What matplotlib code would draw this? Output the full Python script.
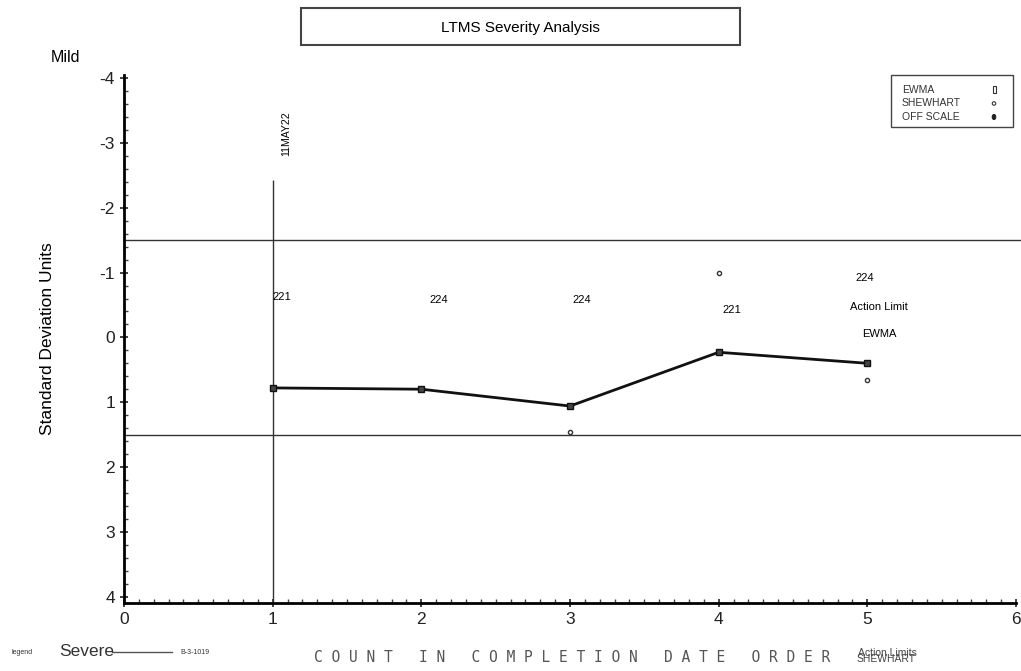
import numpy as np
import matplotlib
matplotlib.use("Agg")
from matplotlib import pyplot as plt
from matplotlib.patches import Rectangle, Ellipse
from matplotlib.ticker import MultipleLocator

plt.rcParams["font.family"] = ["Liberation Sans", "DejaVu Sans"]
plt.rcParams["axes.unicode_minus"] = False

# data
runs = [1, 2, 3, 4, 5]
ewma = [0.78, 0.80, 1.06, 0.23, 0.40]
shew_x = [3, 4, 5]
shew_y = [1.46, -1.0, 0.66]
lab_x = [1.06, 2.12, 3.08, 4.09, 4.98]
lab_y = [-0.63, -0.58, -0.58, -0.43, -0.92]
labels = ["221", "224", "224", "221", "224"]
limit_hi = -1.5
limit_lo = 1.5
date_x = 1
date_lbl = "11MAY22"

W, H = 1021, 671
fig = plt.figure(figsize=(10.21, 6.71), dpi=100)
ax = fig.add_axes([124 / W, 1 - 603 / H, 892 / W, 528 / H])
ax.set_xlim(0, 6)
ax.set_ylim(4.1, -4.05)

for s in ["top", "right"]:
    ax.spines[s].set_visible(False)
ax.spines["left"].set_linewidth(2)
ax.spines["bottom"].set_linewidth(2)
ax.xaxis.set_major_locator(MultipleLocator(1))
ax.yaxis.set_major_locator(MultipleLocator(1))
ax.xaxis.set_minor_locator(MultipleLocator(0.1))
ax.yaxis.set_minor_locator(MultipleLocator(0.2))
ax.tick_params(which="major", direction="inout", length=6, width=1.2, labelsize=12.5, colors="#222")
ax.tick_params(which="minor", direction="in", length=3, width=1, colors="#444")

ax.axhline(limit_hi, xmax=1.01, color="#333", lw=1, clip_on=False)
ax.axhline(limit_lo, xmax=1.01, color="#333", lw=1, clip_on=False)
ax.vlines(date_x, 4.1, -2.43, color="#333", lw=1)
ax.text(date_x + 0.09, -3.15, date_lbl, rotation=90, fontsize=7.5, ha="center", va="center")

ax.plot(runs, ewma, color="#111", lw=2, marker="s", ms=4, mfc="#444", mec="#111")
ax.plot(shew_x, shew_y, ls="none", marker="o", ms=3, mfc="white", mec="#333")
for x, y, t in zip(lab_x, lab_y, labels):
    ax.text(x, y, t, fontsize=8, ha="center", va="center")
ax.text(5.08, -0.47, "Action Limit", fontsize=8, ha="center", va="center")
ax.text(5.08, -0.05, "EWMA", fontsize=8, ha="center", va="center")

ax.set_ylabel("Standard Deviation Units", fontsize=12.5, labelpad=32)

# title box
fig.patches.append(Rectangle((301 / W, 1 - 45 / H), 439 / W, 37 / H,
                             transform=fig.transFigure, fill=False, ec="#444", lw=1.5))
fig.text(520 / W, 1 - 28 / H, "LTMS Severity Analysis", fontsize=11, ha="center", va="center")

# legend box
fig.patches.append(Rectangle((891 / W, 1 - 127 / H), 122 / W, 52 / H,
                             transform=fig.transFigure, fill=False, ec="#444", lw=1))
leg_names = ["EWMA", "SHEWHART", "OFF SCALE"]
for i, name in enumerate(leg_names):
    yy = 1 - (90 + i * 13.5) / H
    fig.text(902 / W, yy, name, fontsize=7.5, va="center", color="#333")
fig.patches.append(Rectangle((992.5 / W, 1 - 93 / H), 3 / W, 7 / H,
                             transform=fig.transFigure, fc="white", ec="#333", lw=0.8))
fig.patches.append(Ellipse((994 / W, 1 - 103.5 / H), 3.5 / W, 3.5 / H,
                           transform=fig.transFigure, fc="white", ec="#333", lw=0.8))
fig.patches.append(Ellipse((994 / W, 1 - 117 / H), 3.5 / W, 5 / H,
                           transform=fig.transFigure, fc="#222", ec="#222", lw=0.8))

fig.text(65 / W, 1 - 58 / H, "Mild", fontsize=11.5, ha="center", va="center")

# bottom labels
fig.text(22 / W, 1 - 653 / H, "legend", fontsize=5, ha="center", va="center", color="#333")
fig.text(87 / W, 1 - 651 / H, "Severe", fontsize=12.5, ha="center", va="center", color="#333")
fig.lines.append(plt.Line2D([112 / W, 172 / W], [1 - 652 / H] * 2,
                            transform=fig.transFigure, color="#555", lw=1))
fig.text(195 / W, 1 - 652 / H, "B-3-1019", fontsize=5, ha="center", va="center", color="#333")
fig.text(572 / W, 1 - 658 / H, "C O U N T   I N   C O M P L E T I O N   D A T E   O R D E R",
         family="DejaVu Sans Mono", fontsize=10.5, ha="center", va="center", color="#555")
fig.text(887 / W, 1 - 653 / H, "Action Limits", fontsize=7.5, ha="center", va="center", color="#444")
fig.text(886 / W, 1 - 659 / H, "SHEWHART", fontsize=7.5, ha="center", va="center", color="#444")

fig.savefig("out.png", dpi=100)
